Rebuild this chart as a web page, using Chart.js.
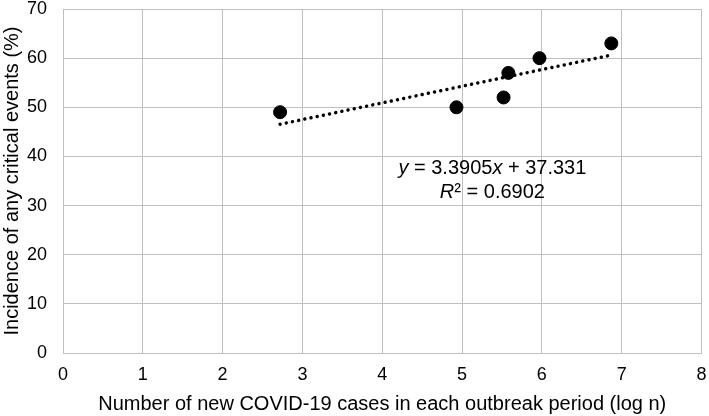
<!DOCTYPE html>
<html>
<head>
<meta charset="utf-8">
<script src="https://cdn.jsdelivr.net/npm/chart.js@4.4.0/dist/chart.umd.min.js"></script>
<style>
  html, body { margin: 0; padding: 0; background: #fff; }
  #wrap { width: 709px; height: 416px; }
</style>
</head>
<body>
<div id="wrap"><canvas id="chart"></canvas></div>
<script>
// data
const caseLog = [2.72, 4.93, 5.52, 5.58, 5.97, 6.87];
const incidence = [49, 50, 52, 57, 60, 63];
const trendX = [2.72, 6.87];
const trendY = [46.55, 60.62];
const xTicks = [0, 1, 2, 3, 4, 5, 6, 7, 8];
const yTicks = [0, 10, 20, 30, 40, 50, 60, 70];

const fontFamily = 'Liberation Sans, Arial, sans-serif';
const gridColor = '#bfbfbf';

// trendline equation label
const eqLabel = {
  id: 'eqLabel',
  afterDatasetsDraw(chart) {
    const { ctx, scales } = chart;
    const cx = scales.x.getPixelForValue(5.38);
    const y1 = scales.y.getPixelForValue(37.5);
    const y2 = scales.y.getPixelForValue(32.6);
    ctx.save();
    ctx.fillStyle = '#000';
    ctx.textBaseline = 'middle';
    drawParts(ctx, [['y', true], [' = 3.3905', false], ['x', true], [' + 37.331', false]], cx, y1);
    drawParts(ctx, [['R', true], ['² = 0.6902', false]], cx, y2);
    ctx.restore();
  }
};

function drawParts(ctx, parts, cx, y) {
  const fonts = parts.map(p => (p[1] ? 'italic ' : '') + '20px ' + fontFamily);
  let total = 0;
  const widths = parts.map((p, i) => {
    ctx.font = fonts[i];
    const w = ctx.measureText(p[0]).width;
    total += w;
    return w;
  });
  let x = cx - total / 2;
  ctx.textAlign = 'left';
  parts.forEach((p, i) => {
    ctx.font = fonts[i];
    ctx.fillText(p[0], x, y);
    x += widths[i];
  });
}

new Chart(document.getElementById('chart'), {
  type: 'scatter',
  data: {
    datasets: [
      {
        label: 'Incidence',
        data: caseLog.map((x, i) => ({ x: x, y: incidence[i] })),
        backgroundColor: '#000',
        borderColor: '#000',
        pointRadius: 6.5,
        pointHoverRadius: 6.5
      },
      {
        label: 'Linear trend',
        type: 'line',
        data: trendX.map((x, i) => ({ x: x, y: trendY[i] })),
        borderColor: '#000',
        borderWidth: 3.5,
        borderDash: [0.01, 6.3],
        borderCapStyle: 'round',
        pointRadius: 0,
        fill: false
      }
    ]
  },
  options: {
    responsive: true,
    maintainAspectRatio: false,
    animation: false,
    layout: { padding: 0 },
    plugins: {
      legend: { display: false },
      tooltip: { enabled: false }
    },
    scales: {
      x: {
        type: 'linear',
        min: 0,
        max: 8,
        afterBuildTicks: s => { s.ticks = xTicks.map(v => ({ value: v })); },
        afterFit: s => { s.height = 63; s.paddingLeft = 0; s.paddingRight = 6; },
        grid: { color: gridColor, lineWidth: 1, drawTicks: false },
        border: { color: gridColor, width: 1 },
        ticks: { color: '#000', padding: 11, maxRotation: 0, font: { size: 18, family: fontFamily } },
        title: {
          display: true,
          text: 'Number of new COVID-19 cases in each outbreak period (log n)',
          color: '#000',
          padding: { top: 2, bottom: 0 },
          font: { size: 20, family: fontFamily }
        }
      },
      y: {
        min: 0,
        max: 70,
        afterBuildTicks: s => { s.ticks = yTicks.map(v => ({ value: v })); },
        afterFit: s => { s.width = 63; s.paddingTop = 9; s.paddingBottom = 0; },
        grid: { color: gridColor, lineWidth: 1, drawTicks: false },
        border: { color: gridColor, width: 1 },
        ticks: { color: '#000', padding: 16, font: { size: 18, family: fontFamily } },
        title: {
          display: true,
          text: 'Incidence of any critical events (%)',
          color: '#000',
          padding: { top: 0, bottom: 0 },
          font: { size: 20, family: fontFamily }
        }
      }
    }
  },
  plugins: [eqLabel]
});
</script>
</body>
</html>
